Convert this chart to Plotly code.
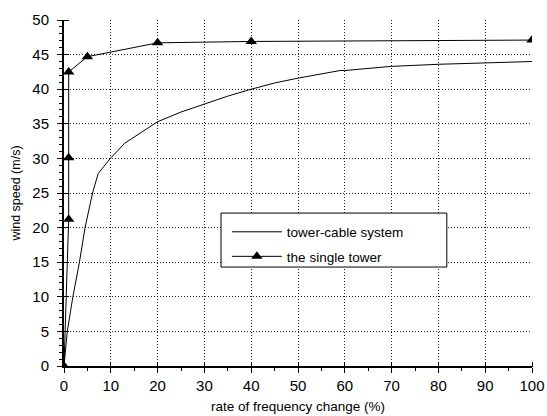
import plotly.graph_objects as go

# tower-cable system
cable_x = [0, 0.7, 1.9, 3.3, 4.5, 6.1, 7.3, 9.9, 13, 16.3, 20, 25, 30, 35, 40, 45, 50, 59, 60, 70, 80, 90, 100]
cable_y = [0, 5, 10, 15, 20, 25, 27.8, 30, 32.2, 33.7, 35.3, 36.7, 37.9, 39.0, 40.0, 40.9, 41.6, 42.7, 42.7, 43.3, 43.6, 43.8, 44.0]

# the single tower
tower_x = [0, 1, 1, 1, 5, 20, 40, 100]
tower_y = [0, 21.2, 30.1, 42.5, 44.7, 46.7, 46.9, 47.1]

x_ticks = [0, 10, 20, 30, 40, 50, 60, 70, 80, 90, 100]
y_ticks = [0, 5, 10, 15, 20, 25, 30, 35, 40, 45, 50]

FONT = "Liberation Sans, Arial, sans-serif"

fig = go.Figure()
fig.add_trace(go.Scatter(x=cable_x, y=cable_y, mode="lines", name="tower-cable system",
                         legendgroup="a",
                         line=dict(color="black", width=1)))
fig.add_trace(go.Scatter(x=tower_x, y=tower_y, mode="lines+markers", name="the single tower",
                         legendgroup="b",
                         line=dict(color="black", width=1),
                         marker=dict(symbol="triangle-up", size=10, color="black")))
# invisible trace to activate the helper axes (inner half of the crossing ticks)
fig.add_trace(go.Scatter(x=[50], y=[25], xaxis="x2", yaxis="y2", mode="markers",
                         marker=dict(opacity=0), showlegend=False, hoverinfo="skip"))

grid = dict(showgrid=True, gridcolor="#222", gridwidth=1, griddash="1px,2px")

fig.update_layout(
    width=547, height=416,
    margin=dict(l=64, r=15, t=20, b=50),
    paper_bgcolor="white", plot_bgcolor="white",
    font=dict(family=FONT, color="black"),
    showlegend=True,
    legend=dict(x=0.348, y=0.432, xanchor="left", yanchor="top",
                bgcolor="rgba(0,0,0,0)", borderwidth=0,
                font=dict(size=13.5, family=FONT),
                itemwidth=50, traceorder="grouped", tracegroupgap=4),
    shapes=[dict(type="rect", xref="paper", yref="paper",
                 x0=0.3355, x1=0.818, y0=0.286, y1=0.442,
                 line=dict(color="black", width=1), fillcolor="white", layer="above")],
    xaxis=dict(range=[0, 100], tickvals=x_ticks, ticks="outside", ticklen=5,
               tickwidth=1, tickcolor="black", showline=True, linecolor="black", linewidth=2,
               zeroline=False, tickfont=dict(size=15), automargin=False,
               minor=dict(ticks="outside", ticklen=3, dtick=5, tickcolor="black", showgrid=False),
               title=dict(text="rate of frequency change (%)", font=dict(size=13.5), standoff=9),
               **grid),
    yaxis=dict(range=[0, 50], tickvals=y_ticks, ticks="outside", ticklen=5,
               tickwidth=1, tickcolor="black", showline=True, linecolor="black", linewidth=2,
               zeroline=False, tickfont=dict(size=15), ticklabelstandoff=5, automargin=False,
               minor=dict(ticks="outside", ticklen=3, dtick=1, tickcolor="black", showgrid=False),
               title=dict(text="wind speed (m/s)", font=dict(size=12.5), standoff=9),
               **grid),
    xaxis2=dict(overlaying="x", range=[0, 100], tickvals=x_ticks, ticks="outside", ticklen=5,
                tickwidth=1, tickcolor="black", showticklabels=False, showgrid=False,
                zeroline=False, showline=False, side="bottom", anchor="free",
                position=5 / 346, automargin=False),
    yaxis2=dict(overlaying="y", range=[0, 50], tickvals=y_ticks, ticks="outside", ticklen=5,
                tickwidth=1, tickcolor="black", showticklabels=False, showgrid=False,
                zeroline=False, showline=False, side="left", anchor="free",
                position=5 / 468, automargin=False),
)

fig.write_html("out.html")
